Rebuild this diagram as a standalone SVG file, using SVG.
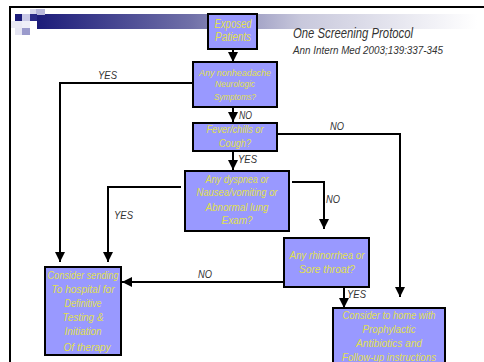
<svg xmlns="http://www.w3.org/2000/svg" width="484" height="362" viewBox="0 0 484 362">
<defs>
<linearGradient id="bar" x1="0" y1="0" x2="1" y2="0">
<stop offset="0" stop-color="#1c1c7a"/>
<stop offset="0.35" stop-color="#7070a8"/>
<stop offset="0.6" stop-color="#c8c8dc"/>
<stop offset="1" stop-color="#ffffff"/>
</linearGradient>
<marker id="ah" viewBox="0 0 10 10" refX="10" refY="5" markerWidth="10" markerHeight="10" markerUnits="userSpaceOnUse" orient="auto">
<path d="M0,0 L10,5 L0,10 Z" fill="#000"/>
</marker>
<style>
.box{fill:#9999ff;stroke:#000;stroke-width:2}
.bt{font-family:"Liberation Sans",Arial,sans-serif;font-style:italic;fill:#e0e050;text-anchor:middle}
.lbl{font-family:"Liberation Sans",Arial,sans-serif;font-style:italic;fill:#333;font-size:10.5px}
.ln{fill:none;stroke:#000;stroke-width:2}
</style>
</defs>
<rect width="484" height="362" fill="#fff"/>
<!-- header decoration -->
<rect x="37" y="14" width="440" height="15" fill="url(#bar)"/>
<rect x="15" y="14" width="7" height="7" fill="#1c1c7a"/>
<rect x="22" y="14" width="8" height="7" fill="#c8c8e6"/>
<rect x="30" y="9" width="6" height="5" fill="#d8d8ee"/>
<rect x="36" y="9" width="9" height="6" fill="#b8b8dc"/>
<rect x="30" y="14" width="7" height="7" fill="#2a2a88"/>
<rect x="11" y="21" width="11" height="7" fill="#e8e8f4"/>
<rect x="22" y="21" width="8" height="7" fill="#eeeef8"/>
<rect x="22" y="28" width="8" height="7" fill="#9a9acc"/>
<rect x="15" y="28" width="7" height="7" fill="#e4e4f2"/>
<!-- frame -->
<path class="ln" d="M10,362 V7 H484" stroke-width="2.5"/>
<!-- title -->
<text x="293" y="38" font-family="'Liberation Sans',Arial,sans-serif" font-style="italic" font-size="14" fill="#333" textLength="120" lengthAdjust="spacingAndGlyphs">One Screening Protocol</text>
<text x="293" y="54" font-family="'Liberation Sans',Arial,sans-serif" font-style="italic" font-size="10" fill="#333" textLength="150" lengthAdjust="spacingAndGlyphs">Ann Intern Med 2003;139:337-345</text>
<g id="connectors">
<path class="ln" d="M233,49 V62" marker-end="url(#ah)"/>
<path class="ln" d="M233,107 V122" marker-end="url(#ah)"/>
<path class="ln" d="M233,151 V170" marker-end="url(#ah)"/>
<path class="ln" d="M192,83 H60 V262" marker-end="url(#ah)"/>
<path class="ln" d="M181,187 H108 V262" marker-end="url(#ah)"/>
<path class="ln" d="M292,182 H324 V229" marker-end="url(#ah)"/>
<path class="ln" d="M278,134 H400 V297" marker-end="url(#ah)"/>
<path class="ln" d="M284,282 H122" marker-end="url(#ah)"/>
<path class="ln" d="M344,287 V308" marker-end="url(#ah)"/>
<text class="lbl" x="98" y="79" textLength="19" lengthAdjust="spacingAndGlyphs">YES</text>
<text class="lbl" x="239" y="119" textLength="13" lengthAdjust="spacingAndGlyphs">NO</text>
<text class="lbl" x="330" y="130" textLength="14" lengthAdjust="spacingAndGlyphs">NO</text>
<text class="lbl" x="238" y="163" textLength="19" lengthAdjust="spacingAndGlyphs">YES</text>
<text class="lbl" x="326" y="203" textLength="14" lengthAdjust="spacingAndGlyphs">NO</text>
<text class="lbl" x="114" y="219" textLength="19" lengthAdjust="spacingAndGlyphs">YES</text>
<text class="lbl" x="198" y="278" textLength="14" lengthAdjust="spacingAndGlyphs">NO</text>
<text class="lbl" x="347" y="298" textLength="19" lengthAdjust="spacingAndGlyphs">YES</text>
</g>
<g id="exposed">
<rect class="box" x="208" y="14" width="49" height="35"/>
<text class="bt" font-size="12" x="233" y="28" textLength="37" lengthAdjust="spacingAndGlyphs">Exposed</text>
<text class="bt" font-size="12" x="233" y="41" textLength="36" lengthAdjust="spacingAndGlyphs">Patients</text>
</g>
<g id="neuro">
<rect class="box" x="193" y="62" width="84" height="45"/>
<text class="bt" font-size="9" x="235" y="76" textLength="72" lengthAdjust="spacingAndGlyphs">Any nonheadache</text>
<text class="bt" font-size="9" x="235" y="87" textLength="40" lengthAdjust="spacingAndGlyphs">Neurologic</text>
<text class="bt" font-size="9" x="235" y="100" textLength="42" lengthAdjust="spacingAndGlyphs">Symptoms?</text>
</g>
<g id="fever">
<rect class="box" x="193" y="123" width="84" height="28"/>
<text class="bt" font-size="11.5" x="235" y="133" textLength="57" lengthAdjust="spacingAndGlyphs">Fever/chills  or</text>
<text class="bt" font-size="11.5" x="235" y="147" textLength="32" lengthAdjust="spacingAndGlyphs">Cough?</text>
</g>
<g id="dyspnea">
<rect class="box" x="185" y="171" width="104" height="60"/>
<text class="bt" font-size="11.5" x="237" y="183" textLength="63" lengthAdjust="spacingAndGlyphs">Any dyspnea or</text>
<text class="bt" font-size="11.5" x="237" y="196" textLength="81" lengthAdjust="spacingAndGlyphs">Nausea/vomiting or</text>
<text class="bt" font-size="11.5" x="237" y="211" textLength="63" lengthAdjust="spacingAndGlyphs">Abnormal lung</text>
<text class="bt" font-size="11.5" x="237" y="224" textLength="31" lengthAdjust="spacingAndGlyphs">Exam?</text>
</g>
<g id="rhino">
<rect class="box" x="284" y="238" width="85" height="49"/>
<text class="bt" font-size="11.5" x="327" y="259" textLength="75" lengthAdjust="spacingAndGlyphs">Any rhinorrhea  or</text>
<text class="bt" font-size="11.5" x="327" y="273" textLength="56" lengthAdjust="spacingAndGlyphs">Sore throat?</text>
</g>
<g id="hospital">
<rect class="box" x="45" y="267" width="76" height="88"/>
<text class="bt" font-size="11.5" x="83" y="279" textLength="71" lengthAdjust="spacingAndGlyphs">Consider sending</text>
<text class="bt" font-size="11.5" x="83" y="293" textLength="63" lengthAdjust="spacingAndGlyphs">To hospital  for</text>
<text class="bt" font-size="11.5" x="83" y="307" textLength="37" lengthAdjust="spacingAndGlyphs">Definitive</text>
<text class="bt" font-size="11.5" x="83" y="321" textLength="41" lengthAdjust="spacingAndGlyphs">Testing &amp;</text>
<text class="bt" font-size="11.5" x="83" y="335" textLength="37" lengthAdjust="spacingAndGlyphs">Initiation</text>
<text class="bt" font-size="11.5" x="87" y="351" textLength="47" lengthAdjust="spacingAndGlyphs">Of therapy</text>
</g>
<g id="home">
<rect class="box" x="333" y="308" width="112" height="60"/>
<text class="bt" font-size="11.5" x="389" y="319" textLength="93" lengthAdjust="spacingAndGlyphs">Consider to home with</text>
<text class="bt" font-size="11.5" x="389" y="333" textLength="53" lengthAdjust="spacingAndGlyphs">Prophylactic</text>
<text class="bt" font-size="11.5" x="389" y="347" textLength="66" lengthAdjust="spacingAndGlyphs">Antibiotics and</text>
<text class="bt" font-size="11.5" x="389" y="361" textLength="94" lengthAdjust="spacingAndGlyphs">Follow-up instructions</text>
</g>
</svg>
